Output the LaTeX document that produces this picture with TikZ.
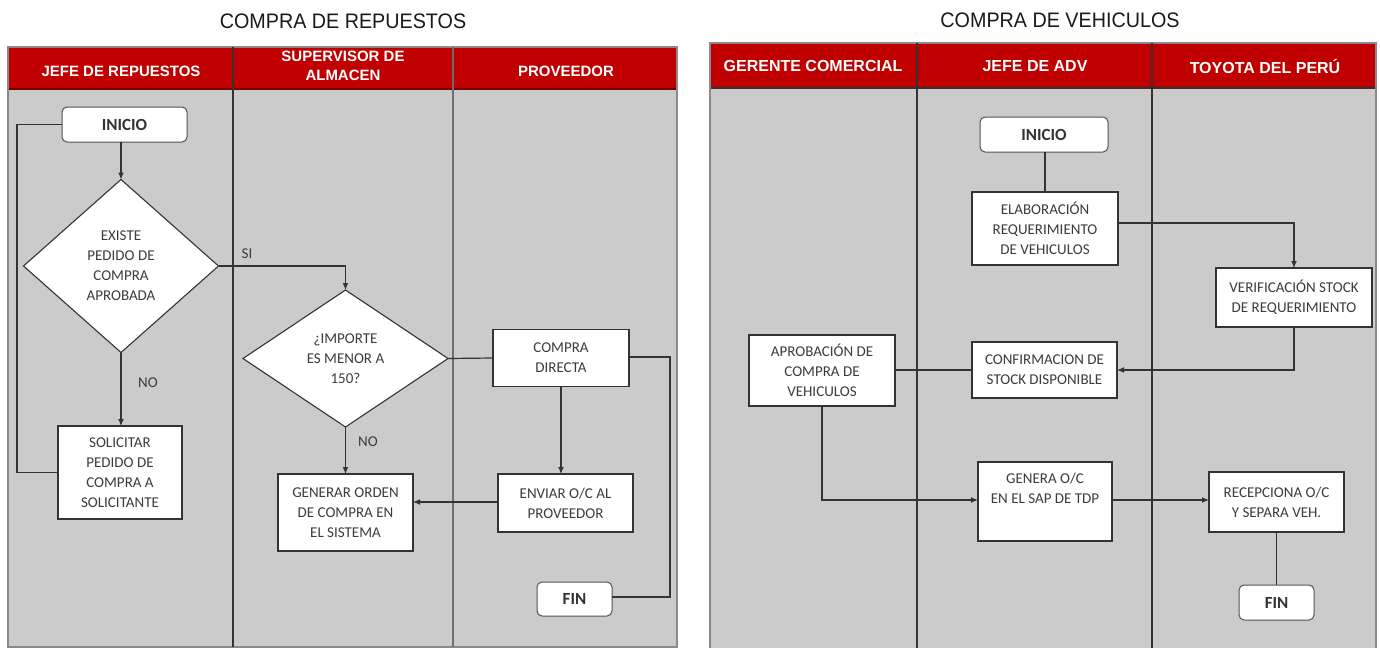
\documentclass[tikz,border=0pt]{standalone}
\usepackage{fontspec}
\setmainfont{Carlito}
\newfontfamily\titlefont{Liberation Sans}[FakeStretch=0.94]
\newfontfamily\headfont{Liberation Sans}
\usetikzlibrary{shapes.geometric,arrows.meta}
\definecolor{lanered}{HTML}{C00000}
\definecolor{lanegray}{HTML}{CBCBCB}
\definecolor{txt}{HTML}{3C3C3C}
\definecolor{ink}{HTML}{333333}
\definecolor{rim}{HTML}{8A8A8A}

\begin{document}
\begin{tikzpicture}[x=1pt,y=-1pt,
  every node/.style={inner sep=0pt, outer sep=0pt},
  sz/.style 2 args={minimum width=#1pt, minimum height=#2pt},
  proc/.style={draw=ink, line width=1.1pt, fill=white, align=center, text=txt,
               font=\fontsize{15}{20}\selectfont},
  term/.style={draw=ink!85, line width=1pt, fill=white, rounded corners=5pt,
               text=ink, font=\bfseries\fontsize{17}{20}\selectfont},
  dec/.style={diamond, draw=ink, line width=1.1pt, fill=white, align=center,
              text=txt, font=\fontsize{15}{20}\selectfont},
  flow/.style={draw=ink, line width=1.2pt},
  arr/.style={flow, -{Latex[length=7pt,width=6pt]}},
  lbl/.style={text=txt, font=\fontsize{15}{20}\selectfont},
  hdr/.style={text=white, align=center, font=\headfont\bfseries\fontsize{15}{19}\selectfont},
  ttl/.style={text=black!90, font=\titlefont\fontsize{21}{24}\selectfont},
  divider/.style={draw=ink, line width=1.4pt},
]
\useasboundingbox (0,0) rectangle (1380,648);

% ---------------- Compra de repuestos: swimlanes ----------------
\node[ttl] (t1) at (343,21) {COMPRA DE REPUESTOS};
\fill[lanegray] (8,89) rectangle (677,647);
\fill[lanered] (8,47) rectangle (677,89);
\draw[draw=lanered!60!black, line width=1.2pt] (8,89) -- (677,89);
\draw[draw=rim, line width=1.5pt] (8,47) rectangle (677,647);
\draw[divider] (233,47) -- (233,647);
\draw[divider, draw=rim!80!black] (453,47) -- (453,647);
\node[hdr] (h1) at (121,71) {JEFE DE REPUESTOS};
\node[hdr] (h2) at (343,66) {SUPERVISOR DE\\ALMACEN};
\node[hdr] (h3) at (566,71) {PROVEEDOR};

% ---------------- Compra de vehiculos: swimlanes ----------------
\node[ttl] (t2) at (1060,20) {COMPRA DE VEHICULOS};
\fill[lanegray] (710,88) rectangle (1376,648);
\fill[lanered] (710,43) rectangle (1376,88);
\draw[draw=ink, line width=1.2pt] (710,88) -- (1376,88);
\draw[draw=rim, line width=1.5pt] (710,648) -- (710,43) -- (1376,43) -- (1376,648);
\draw[divider] (917,43) -- (917,648);
\draw[divider] (1152,43) -- (1152,648);
\node[hdr, font=\headfont\bfseries\fontsize{16}{19}\selectfont] (h4) at (813,66) {GERENTE COMERCIAL};
\node[hdr, font=\headfont\bfseries\fontsize{16}{19}\selectfont] (h5) at (1035,66) {JEFE DE ADV};
\node[hdr, font=\headfont\bfseries\fontsize{16}{19}\selectfont] (h6) at (1265,66) {TOYOTA DEL PERÚ};

% ---------------- Repuestos: steps ----------------
\node[term, sz={125}{35}] (ini1) at (124.5,124.5) {INICIO};
\node[dec, sz={195}{173}] (d1) at (121,266) {EXISTE\\PEDIDO DE\\COMPRA\\APROBADA};
\node[proc, sz={124}{93}] (sol) at (120,472.5) {SOLICITAR\\PEDIDO DE\\COMPRA A\\SOLICITANTE};
\node[dec, sz={205}{137}] (d2) at (345.5,358.5) {¿IMPORTE\\ES MENOR A\\150?};
\node[proc, sz={135}{77}] (gen1) at (345.5,512.5) {GENERAR ORDEN\\DE COMPRA EN\\EL SISTEMA};
\node[proc, sz={136}{57}] (cd) at (561,358) {COMPRA\\DIRECTA};
\node[proc, sz={135}{58}] (env) at (565.5,503) {ENVIAR O/C AL\\PROVEEDOR};
\node[term, sz={75}{34}] (fin1) at (574.5,599) {FIN};

\node[lbl] (si) at (247,254) {SI};
\node[lbl] (no1) at (148,383) {NO};
\node[lbl] (no2) at (368,442) {NO};

% ---------------- Repuestos: connectors ----------------
\draw[arr] (d1.north |- ini1.south) -- (d1.north);
\draw[arr] (d1.south) -- (d1.south |- sol.north);
\draw[flow] (sol.west) -- ++(-41,0) |- (ini1.west);
\draw[arr] (d1.east) -| (d2.north);
\draw[flow] (d2.east) -- (cd.west);
\draw[arr] (d2.south) -- (gen1.north);
\draw[arr] (cd.south) -- (cd.south |- env.north);
\draw[arr] ([yshift=1pt]env.west) -- ([yshift=1pt]env.west -| gen1.east);
\draw[flow] ([yshift=1pt]cd.east) -- ++(41,0) |- ([yshift=2pt]fin1.east);

% ---------------- Vehiculos: steps ----------------
\node[term, sz={128}{35}] (ini2) at (1044,134.5) {INICIO};
\node[proc, sz={146}{73}] (elab) at (1045,228.5) {ELABORACIÓN\\REQUERIMIENTO\\DE VEHICULOS};
\node[proc, sz={156}{59}] (verif) at (1294,297.5) {VERIFICACIÓN STOCK\\DE REQUERIMIENTO};
\node[proc, sz={145}{56}] (conf) at (1044.5,370) {CONFIRMACION DE\\STOCK DISPONIBLE};
\node[proc, sz={146}{71}] (aprob) at (822,370.5) {APROBACIÓN DE\\COMPRA DE\\VEHICULOS};
\node[proc, sz={134}{79}] (gen2) at (1045,501.5) {GENERA O/C\\EN EL SAP DE TDP\\\strut};
\node[proc, sz={135}{60}] (recep) at (1276.5,502) {RECEPCIONA O/C\\Y SEPARA VEH.};
\node[term, sz={75}{35}] (fin2) at (1276.5,602.5) {FIN};

% ---------------- Vehiculos: connectors ----------------
\draw[flow] (ini2.south -| elab.north) -- (elab.north);
\draw[arr] ([yshift=5.5pt]elab.east) -| (verif.north);
\draw[arr] (verif.south) |- (conf.east);
\draw[flow] (conf.west) -- (conf.west -| aprob.east);
\draw[arr] (aprob.south) |- ([yshift=1.5pt]gen2.west);
\draw[arr] ([yshift=1.5pt]gen2.east) -- ([yshift=1.5pt]gen2.east -| recep.west);
\draw[flow] (recep.south) -- (fin2.north);
\end{tikzpicture}
\end{document}
